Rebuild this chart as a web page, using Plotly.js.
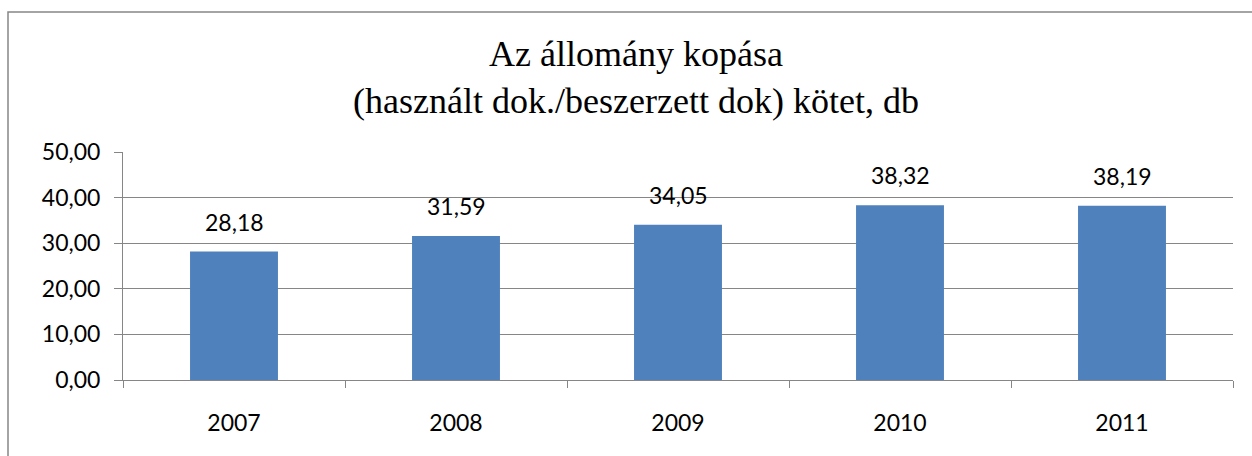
<!DOCTYPE html>
<html>
<head>
<meta charset="utf-8">
<script src="https://cdn.plot.ly/plotly-3.0.1.min.js"></script>
<style>html,body{margin:0;padding:0;background:#fff;}#chart{width:1252px;height:456px;}</style>
</head>
<body>
<div id="chart"></div>
<script>
const years = ['2007', '2008', '2009', '2010', '2011'];
const values = [28.18, 31.59, 34.05, 38.32, 38.19];
const titleLines = ['Az állomány kopása', '(használt dok./beszerzett dok) kötet, db'];
const yTicks = [0, 10, 20, 30, 40, 50];

const gray = '#868686';
const labelFont = {family: 'Lato, "Open Sans", sans-serif', size: 23, color: '#000'};

const trace = {
  type: 'bar',
  x: years,
  y: values,
  marker: {color: '#4F81BD', line: {width: 0}},
  hoverinfo: 'none'
};

const annotations = years.map((yr, i) => ({
  x: i, y: values[i], xref: 'x', yref: 'y',
  text: values[i].toFixed(2).replace('.', ','),
  showarrow: false, yanchor: 'bottom', yshift: 14,
  font: labelFont
}));

const layout = {
  width: 1252, height: 456,
  margin: {l: 123, r: 19, t: 152, b: 76},
  paper_bgcolor: '#fff', plot_bgcolor: '#fff',
  separators: ',.',
  showlegend: false,
  bargap: 0.604,
  title: {
    text: titleLines.join('<br>'),
    font: {family: '"Liberation Serif", "Times New Roman", serif', size: 36, color: '#000'},
    x: 636 / 1252, xref: 'container', xanchor: 'center',
    y: 1 - 66 / 456, yref: 'container', yanchor: 'top'
  },
  xaxis: {
    type: 'category',
    range: [-0.5, 4.5],
    showline: true, linecolor: gray, linewidth: 1,
    ticks: 'outside', tickson: 'boundaries', ticklen: 7, tickcolor: gray, tickwidth: 1,
    showgrid: false, zeroline: false,
    tickfont: labelFont, ticklabelstandoff: 22
  },
  yaxis: {
    range: [0, 50], tickvals: yTicks, tickformat: '.2f',
    showline: true, linecolor: gray, linewidth: 1,
    ticks: 'outside', ticklen: 8, tickcolor: gray, tickwidth: 1,
    showgrid: true, gridcolor: gray, gridwidth: 1,
    zeroline: false,
    tickfont: labelFont, ticklabelstandoff: 9
  },
  annotations: annotations,
  shapes: [{
    type: 'rect', xref: 'paper', yref: 'paper',
    x0: (8 - 123) / 1110, x1: 1.2,
    y0: -0.6, y1: 1 + (152 - 12) / 228,
    line: {color: gray, width: 1.5}, fillcolor: 'rgba(0,0,0,0)', layer: 'below'
  }]
};

Plotly.newPlot('chart', [trace], layout, {displayModeBar: false, staticPlot: true});
</script>
</body>
</html>
